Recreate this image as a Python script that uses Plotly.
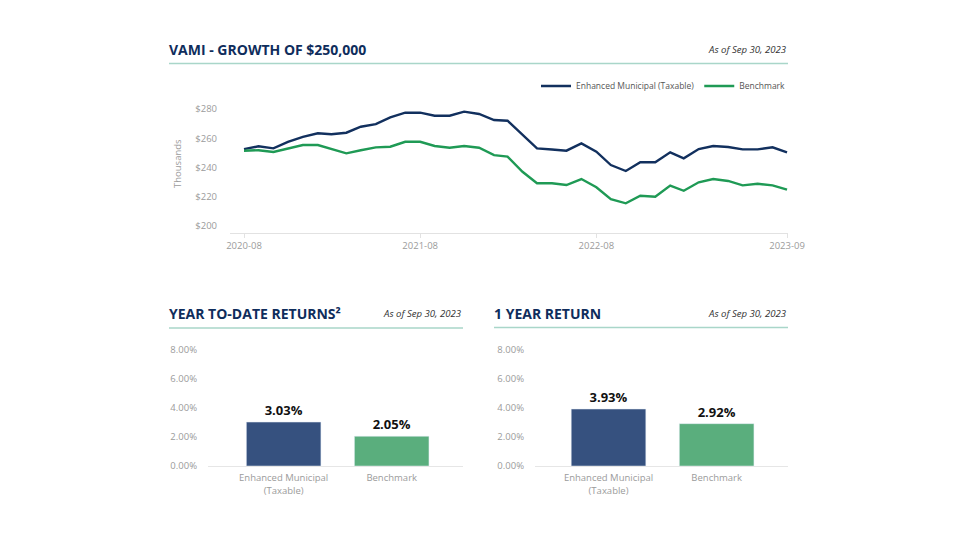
import plotly.graph_objects as go
import pandas as pd

# ---------------- data ----------------
dates = pd.date_range("2020-08-31", "2023-09-30", freq="ME").strftime("%Y-%m-%d").tolist()
enhanced_muni = [252.6, 254.5, 253.1, 257.5, 260.9, 263.4, 262.7, 263.8, 267.9, 269.7,
                 274.3, 277.5, 277.5, 275.4, 275.4, 278.2, 276.6, 272.5, 272.0, 262.6,
                 253.1, 252.3, 251.5, 256.5, 250.8, 241.7, 237.6, 243.6, 243.6, 250.4,
                 246.3, 252.6, 254.7, 254.0, 252.4, 252.4, 253.8, 250.4]
benchmark = [251.5, 251.8, 250.6, 252.9, 255.4, 255.4, 252.5, 249.7, 251.8, 253.8,
             254.2, 257.6, 257.6, 254.7, 253.5, 254.7, 253.5, 248.5, 247.4, 237.1,
             229.2, 229.2, 228.0, 232.1, 226.5, 218.3, 215.5, 220.7, 220.0, 227.6,
             224.1, 229.9, 232.1, 230.8, 227.8, 228.9, 227.8, 224.8]
x_tick_vals = ["2020-08-31", "2021-08-31", "2022-08-31", "2023-09-30"]
x_tick_text = ["2020-08", "2021-08", "2022-08", "2023-09"]
y_tick_vals = [200, 220, 240, 260, 280]

bar_categories = ["Enhanced Municipal (Taxable)", "Benchmark"]
bar_tick_text = ["Enhanced Municipal<br>(Taxable)", "Benchmark"]
ytd_returns = [3.03, 2.05]
one_year_returns = [3.93, 2.92]
pct_ticks = [0, 2, 4, 6, 8]

# ---------------- styles ----------------
NAVY = "#12305e"
GREEN = "#1f9a55"
BAR_NAVY = "#36517f"
BAR_GREEN = "#5aae7d"
TICK = "#9b9b9b"
FONT = "Open Sans"
W, H = 960, 540

def px(xp):
    return xp / W

def py(yp):
    return 1 - yp / H

fig = go.Figure()

fig.add_trace(go.Scatter(x=dates, y=enhanced_muni, mode="lines", name="Enhanced Municipal (Taxable)",
                         line=dict(color=NAVY, width=2.4), xaxis="x", yaxis="y"))
fig.add_trace(go.Scatter(x=dates, y=benchmark, mode="lines", name="Benchmark",
                         line=dict(color=GREEN, width=2.4), xaxis="x", yaxis="y"))

bar_text_font = dict(family=FONT, size=13, color="#111111", weight="bold")
fig.add_trace(go.Bar(x=bar_categories, y=ytd_returns, marker=dict(color=[BAR_NAVY, BAR_GREEN]),
                     width=0.69, texttemplate="%{y:.2f}%", textposition="outside",
                     textfont=bar_text_font, cliponaxis=False, showlegend=False,
                     xaxis="x2", yaxis="y2"))
fig.add_trace(go.Bar(x=bar_categories, y=one_year_returns, marker=dict(color=[BAR_NAVY, BAR_GREEN]),
                     width=0.69, texttemplate="%{y:.2f}%", textposition="outside",
                     textfont=bar_text_font, cliponaxis=False, showlegend=False,
                     xaxis="x3", yaxis="y3"))

tickfont = dict(family=FONT, size=9.5, color=TICK)
dollar_text = ["$" + str(v) for v in y_tick_vals]
pct_text = [f"{v:.2f}%" for v in pct_ticks]

fig.update_layout(
    width=W, height=H, autosize=False,
    margin=dict(l=0, r=0, t=0, b=0, autoexpand=False),
    paper_bgcolor="white", plot_bgcolor="white",
    font=dict(family=FONT, color="#555555"),
    showlegend=True,
    legend=dict(orientation="h", x=px(791), xanchor="right", y=py(86), yanchor="middle",
                font=dict(family=FONT, size=8.5, color="#555555"), bgcolor="rgba(0,0,0,0)",
                itemwidth=30, tracegroupgap=0, entrywidth=0),
    xaxis=dict(domain=[px(230), px(788)], type="date", range=["2020-08-02", "2023-10-02"],
               tickvals=x_tick_vals, ticktext=x_tick_text, tickfont=tickfont, anchor="y",
               showgrid=False, zeroline=False, showline=True, linecolor="#e2e2e2", linewidth=1,
               ticks="outside", ticklen=4, tickcolor="#e2e2e2", automargin=False),
    yaxis=dict(domain=[py(233), py(94.4)], range=[195.2, 290], tickvals=y_tick_vals,
               ticktext=dollar_text, tickfont=tickfont, showgrid=False, zeroline=False,
               showline=False, ticklabelstandoff=12, anchor="x", automargin=False,
               title=dict(text="Thousands", font=dict(family=FONT, size=9.5, color=TICK), standoff=11)),
    xaxis2=dict(domain=[px(208), px(463)], range=[-0.7, 1.66], tickvals=bar_categories,
                ticktext=bar_tick_text, tickfont=tickfont, showgrid=False, zeroline=False,
                showline=True, linecolor="#e6e6e6", linewidth=1, anchor="y2", automargin=False,
                ticklabelstandoff=3),
    yaxis2=dict(domain=[py(466), py(342.75)], range=[0, 8.5], tickvals=pct_ticks,
                ticktext=pct_text, tickfont=tickfont, showgrid=False, anchor="x2",
                zeroline=False, showline=False, ticklabelstandoff=10, automargin=False),
    xaxis3=dict(domain=[px(535), px(788)], range=[-0.68, 1.66], tickvals=bar_categories,
                ticktext=bar_tick_text, tickfont=tickfont, showgrid=False, zeroline=False,
                showline=True, linecolor="#e6e6e6", linewidth=1, anchor="y3", automargin=False,
                ticklabelstandoff=3),
    yaxis3=dict(domain=[py(466), py(342.75)], range=[0, 8.5], tickvals=pct_ticks,
                ticktext=pct_text, tickfont=tickfont, showgrid=False, anchor="x3",
                zeroline=False, showline=False, ticklabelstandoff=10, automargin=False),
)

title_font = dict(family=FONT, size=14, color="#0f2d5c", weight="bold")
asof_font = dict(family=FONT, size=9.6, color="#333333")

annotations = [
    dict(text="VAMI - GROWTH OF $250,000", x=px(167), y=py(49), xanchor="left", yanchor="middle",
         font=title_font),
    dict(text="<i>As of Sep 30, 2023</i>", x=px(789), y=py(49), xanchor="right", yanchor="middle",
         font=asof_font),
    dict(text="YEAR TO-DATE RETURNS²", x=px(167), y=py(313), xanchor="left", yanchor="middle",
         font=title_font),
    dict(text="<i>As of Sep 30, 2023</i>", x=px(464), y=py(313), xanchor="right", yanchor="middle",
         font=asof_font),
    dict(text="1 YEAR RETURN", x=px(492), y=py(313), xanchor="left", yanchor="middle",
         font=title_font),
    dict(text="<i>As of Sep 30, 2023</i>", x=px(789), y=py(313), xanchor="right", yanchor="middle",
         font=asof_font),
]
for a in annotations:
    a.update(xref="paper", yref="paper", showarrow=False)
fig.update_layout(annotations=annotations)

rule = dict(type="line", xref="paper", yref="paper", line=dict(color="#a9d6c9", width=1.5))
fig.update_layout(shapes=[
    dict(rule, x0=px(169), x1=px(788), y0=py(63.5), y1=py(63.5)),
    dict(rule, x0=px(169), x1=px(463), y0=py(328), y1=py(328)),
    dict(rule, x0=px(494), x1=px(788), y0=py(327.5), y1=py(327.5)),
])

fig.write_html(
    "out.html",
    config={"displayModeBar": False, "responsive": False},
    post_script=("document.documentElement.style.overflow='hidden';"
                 "document.body.style.overflow='hidden';"
                 "document.body.style.margin='0';"),
)
